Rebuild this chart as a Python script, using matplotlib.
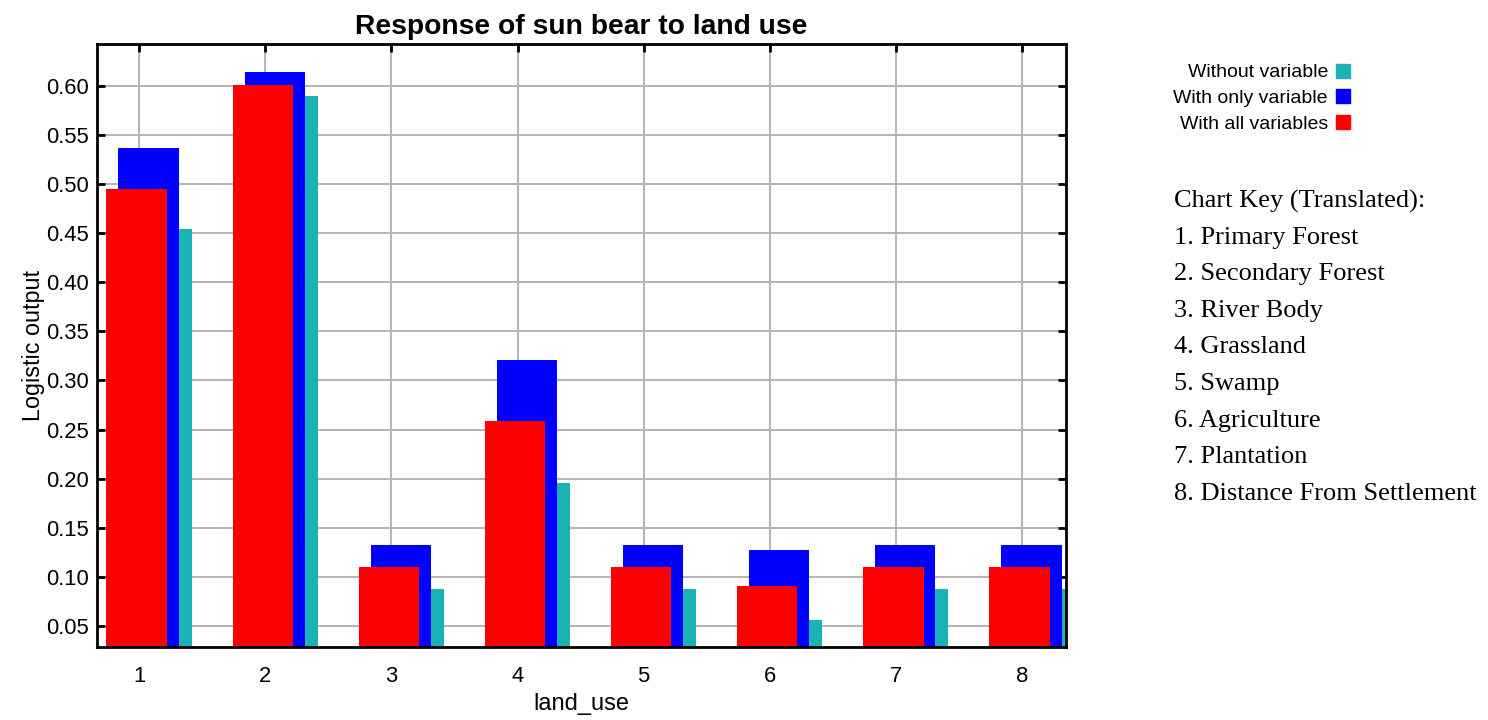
import matplotlib
matplotlib.use("Agg")
import matplotlib.pyplot as plt
from matplotlib.lines import Line2D
import numpy as np

categories = [1, 2, 3, 4, 5, 6, 7, 8]
without_variable = [0.454, 0.590, 0.088, 0.196, 0.088, 0.056, 0.088, 0.088]
with_only_variable = [0.537, 0.614, 0.1325, 0.321, 0.1325, 0.127, 0.1325, 0.1325]
with_all_variables = [0.495, 0.601, 0.110, 0.259, 0.110, 0.091, 0.110, 0.110]
yticks = [0.05, 0.10, 0.15, 0.20, 0.25, 0.30, 0.35, 0.40, 0.45, 0.50, 0.55, 0.60]
key_lines = ["Chart Key (Translated):", "1. Primary Forest", "2. Secondary Forest",
             "3. River Body", "4. Grassland", "5. Swamp", "6. Agriculture",
             "7. Plantation", "8. Distance From Settlement"]

plt.rcParams['font.family'] = ['Liberation Sans', 'DejaVu Sans']

fig = plt.figure(figsize=(14.88, 7.2), dpi=100)
ax = fig.add_axes([97/1488, 1-647/720, (1066-97)/1488, (647-44)/720])

x = np.array(categories, dtype=float)
w = 0.48
c_cyan = '#1ab2b4'
c_blue = '#0000ff'
c_red = '#ff0000'
ax.bar(x + 0.175, without_variable, width=w, color=c_cyan, zorder=2, label='Without variable')
ax.bar(x + 0.075, with_only_variable, width=w, color=c_blue, zorder=3, label='With only variable')
ax.bar(x - 0.02, with_all_variables, width=w, color=c_red, zorder=4, label='With all variables')

ax.set_xlim(0.665, 8.35)
ax.set_ylim(0.0286, 0.6425)
ax.set_xticks(categories)
ax.set_xticklabels([str(c) for c in categories])
ax.set_yticks(yticks)
ax.set_yticklabels([f"{v:.2f}" for v in yticks])
ax.grid(True, color='#b4b4b4', linewidth=1.4, zorder=0)
ax.set_axisbelow(True)
ax.tick_params(axis='both', labelsize=15.8, direction='in', length=6, width=2,
               top=True, right=True, bottom=False)
ax.tick_params(axis='x', pad=14)
ax.tick_params(axis='y', pad=6)
for s in ax.spines.values():
    s.set_linewidth(2)
    s.set_zorder(6)

ax.set_title("Response of sun bear to land use", fontsize=20.3, fontweight='bold', pad=7)
ax.set_xlabel("land_use", fontsize=17, labelpad=4)
ax.set_ylabel("Logistic output", fontsize=16.8, labelpad=1)

handles = [Line2D([], [], marker='s', linestyle='', markersize=10, color=c,
                  markeredgecolor=c) for c in (c_cyan, c_blue, c_red)]
labels = ['Without variable', 'With only variable', 'With all variables']
fig.legend(handles, labels, loc='upper right', bbox_to_anchor=(1359/1488, 1-54/720),
           markerfirst=False, frameon=False, fontsize=14, handlelength=0.6,
           handletextpad=0.5, labelspacing=0.42, borderpad=0)

for i, line in enumerate(key_lines):
    fig.text(1174/1488, 1-(201 + i*36.6)/720, line, family=['Liberation Serif'],
             fontsize=19, va='center', ha='left')

fig.savefig("out.png", dpi=100)
